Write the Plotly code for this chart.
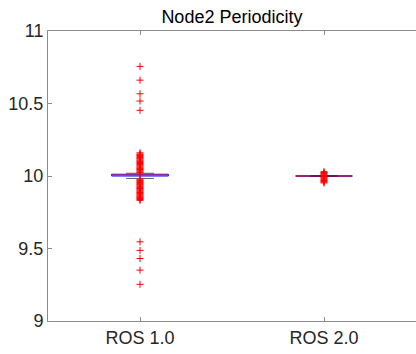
import plotly.graph_objects as go

categories = ["ROS 1.0", "ROS 2.0"]
positions = [1, 2]
q1 = [10.000, 10.000]
median = [10.006, 10.000]
q3 = [10.012, 10.000]
upper_whisker = [10.019, 10.001]
lower_whisker = [9.983, 9.999]

outliers_ros1 = [
    10.756, 10.661, 10.567, 10.517, 10.453,
    10.160, 10.152, 10.147, 10.141, 10.135, 10.128, 10.122, 10.117, 10.110,
    10.104, 10.099, 10.093, 10.086, 10.080, 10.075, 10.069, 10.062, 10.056,
    10.051, 10.045, 10.040, 10.034, 10.028, 10.023,
    9.978, 9.972, 9.967, 9.961, 9.955, 9.949, 9.943, 9.938, 9.932, 9.926,
    9.920, 9.914, 9.909, 9.903, 9.897, 9.891, 9.886, 9.880, 9.874, 9.868,
    9.862, 9.857, 9.851, 9.845, 9.838, 9.832,
    9.546, 9.487, 9.431, 9.351, 9.253,
]
outliers_ros2 = [
    10.030, 10.024, 10.018, 10.012, 10.007, 10.004, 9.996, 9.992, 9.987,
    9.981, 9.975, 9.969, 9.963, 9.958, 9.952,
]
outliers = [outliers_ros1, outliers_ros2]

y_ticks = [9, 9.5, 10, 10.5, 11]
y_tick_labels = ["9", "9.5", "10", "10.5", "11"]

BOX_HALF = 0.154
CAP_HALF = 0.076
BLUE = "#0000ff"
RED = "#ff0000"
CAP_COLORS = ["rgba(0,0,0,0.6)", "rgba(0,0,0,0.35)"]

fig = go.Figure()
for i, p in enumerate(positions):
    cap = CAP_COLORS[i]
    # whiskers
    fig.add_trace(go.Scatter(x=[p, p], y=[q3[i], upper_whisker[i]], mode="lines",
                             line=dict(color=cap, width=1, dash="dash"), hoverinfo="skip"))
    fig.add_trace(go.Scatter(x=[p, p], y=[q1[i], lower_whisker[i]], mode="lines",
                             line=dict(color=cap, width=1, dash="dash"), hoverinfo="skip"))
    # box
    fig.add_trace(go.Scatter(
        x=[p - BOX_HALF, p + BOX_HALF, p + BOX_HALF, p - BOX_HALF, p - BOX_HALF],
        y=[q1[i], q1[i], q3[i], q3[i], q1[i]], mode="lines",
        line=dict(color=BLUE, width=1), hoverinfo="skip"))
    # median
    fig.add_trace(go.Scatter(x=[p - BOX_HALF, p + BOX_HALF], y=[median[i], median[i]],
                             mode="lines", line=dict(color=RED, width=1), hoverinfo="skip"))
    # caps
    for w in (upper_whisker[i], lower_whisker[i]):
        fig.add_trace(go.Scatter(x=[p - CAP_HALF, p + CAP_HALF], y=[w, w], mode="lines",
                                 line=dict(color=cap, width=1), hoverinfo="skip"))
    # outliers
    fig.add_trace(go.Scatter(x=[p] * len(outliers[i]), y=outliers[i], mode="markers",
                             marker=dict(symbol="cross-thin", size=5,
                                         line=dict(color=RED, width=1), color=RED),
                             hoverinfo="skip"))

axis_color = "#8c8c8c"
fig.update_layout(
    width=416, height=354,
    margin=dict(l=48, r=0, t=31, b=33),
    paper_bgcolor="white", plot_bgcolor="white",
    showlegend=False,
    font=dict(family="Liberation Sans, Arial, sans-serif", size=18, color="#262626"),
    title=dict(text="Node2 Periodicity", x=0.5575, xanchor="center",
               y=1 - 16.5 / 354, yanchor="middle", yref="container",
               font=dict(size=18, color="#000000")),
    xaxis=dict(range=[0.5, 2.5], tickvals=positions, ticktext=categories,
               showgrid=False, zeroline=False, showline=True, linecolor=axis_color,
               linewidth=1, mirror="ticks", ticks="inside", ticklen=4,
               tickcolor=axis_color, tickfont=dict(size=18, color="#262626")),
    yaxis=dict(range=[9, 11], tickvals=y_ticks, ticktext=y_tick_labels,
               showgrid=False, zeroline=False, showline=True, linecolor=axis_color,
               linewidth=1, ticks="inside", ticklen=4, tickcolor=axis_color,
               tickfont=dict(size=18, color="#262626")),
)

fig.write_html("out.html")
